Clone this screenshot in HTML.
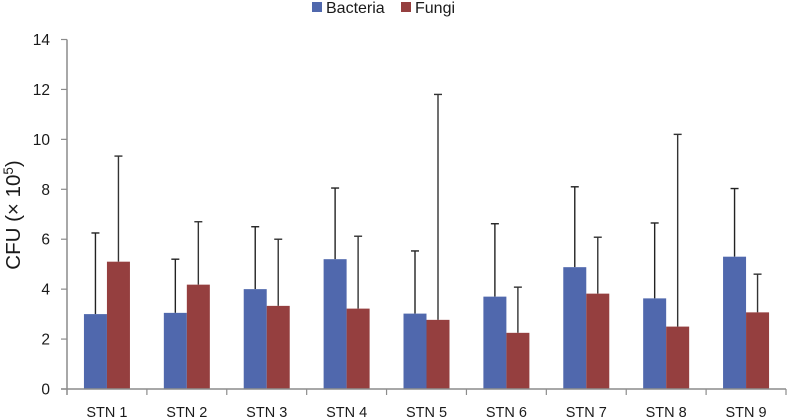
<!DOCTYPE html>
<html>
<head>
<meta charset="utf-8">
<style>
html,body{margin:0;padding:0;background:#fff;}
svg{display:block;font-family:"Liberation Sans",sans-serif;}
</style>
</head>
<body>
<svg id="chart" width="787" height="419" viewBox="0 0 787 419" xmlns="http://www.w3.org/2000/svg">
  <rect x="312" y="2" width="10" height="10" fill="#5068ad"/>
  <text x="326" y="13" font-size="16" fill="#1a1a1a">Bacteria</text>
  <rect x="401" y="2" width="10" height="10" fill="#953f3f"/>
  <text x="415" y="13" font-size="16" fill="#1a1a1a">Fungi</text>
  <text transform="translate(20,215) rotate(-90)" text-anchor="middle" font-size="20.500" fill="#1a1a1a">CFU (× 10<tspan font-size="13.500" dy="-7">5</tspan><tspan dy="7">)</tspan></text>
  <g id="marks"></g>
  <g id="axes"></g>
</svg>
<script>
const categories = ['STN 1','STN 2','STN 3','STN 4','STN 5','STN 6','STN 7','STN 8','STN 9'];
const bacteria = [3.0,3.05,4.0,5.2,3.02,3.7,4.88,3.63,5.3];
const fungi = [5.1,4.18,3.33,3.22,2.77,2.25,3.82,2.5,3.07];
const bacteriaError = [3.25,2.15,2.5,2.85,2.51,2.92,3.22,3.02,2.73];
const fungiError = [4.23,2.52,2.67,2.9,9.03,1.83,2.26,7.7,1.53];
const yTicks = [0,2,4,6,8,10,12,14];

const NS = 'http://www.w3.org/2000/svg';
const marks = document.getElementById('marks');
const axes = document.getElementById('axes');
const plotLeft = 67, plotRight = 786, plotBottom = 389, plotTop = 39.5, yMax = 14;
const barWidth = 23;
const bandWidth = (plotRight - plotLeft) / categories.length;
const yScale = v => plotBottom - (v / yMax) * (plotBottom - plotTop);
const xBand = i => plotLeft + i * bandWidth;

function make(parent, tag, attrs) {
  const el = document.createElementNS(NS, tag);
  for (const k in attrs) el.setAttribute(k, attrs[k]);
  parent.appendChild(el);
  return el;
}

function drawSeries(values, errors, offset, color, errColor, name) {
  values.forEach((v, i) => {
    const x = xBand(i) + bandWidth / 2 + offset;
    const cx = x + barWidth / 2;
    const top = yScale(v);
    const errTop = yScale(v + errors[i]);
    const stem = make(marks, 'line', {x1: cx, x2: cx, y1: top, y2: errTop, stroke: errColor, 'stroke-width': 1.4});
    
    
    const cap = make(marks, 'line', {x1: cx - 4, x2: cx + 4, y1: errTop, y2: errTop, stroke: errColor, 'stroke-width': 1.4});
    
    
    const bar = make(marks, 'rect', {x: x, y: top, width: barWidth, height: plotBottom - top, fill: color});
    
    
  });
}
drawSeries(bacteria, bacteriaError, -barWidth, '#5068ad', '#222', 'bacteria');
drawSeries(fungi, fungiError, 0, '#953f3f', '#333', 'fungi');

const axisColor = '#8c8c8c';
const yLine = make(axes, 'line', {x1: plotLeft, x2: plotLeft, y1: plotTop, y2: plotBottom + 6, stroke: axisColor, 'stroke-width': 1.5});


const xLine = make(axes, 'line', {x1: plotLeft - 6, x2: plotRight, y1: plotBottom, y2: plotBottom, stroke: axisColor, 'stroke-width': 1.5});



yTicks.forEach(t => {
  const y = yScale(t);
  const tick = make(axes, 'line', {x1: plotLeft - 6, x2: plotLeft, y1: y, y2: y, stroke: axisColor, 'stroke-width': 1.2});
  
  
  const label = make(axes, 'text', {x: 50, y: y + 5.5, 'text-anchor': 'end', 'font-size': 15.5, fill: '#1a1a1a'});
  
  
  label.textContent = t;
});

categories.forEach((c, i) => {
  const x = xBand(i + 1);
  const tick = make(axes, 'line', {x1: x, x2: x, y1: plotBottom, y2: plotBottom + 6, stroke: axisColor, 'stroke-width': 1.2});
  
  
  const label = make(axes, 'text', {x: xBand(i) + bandWidth / 2, y: 417, 'text-anchor': 'middle', 'font-size': 14.5, fill: '#1a1a1a'});
  
  
  label.textContent = c;
});
</script>
</body>
</html>
